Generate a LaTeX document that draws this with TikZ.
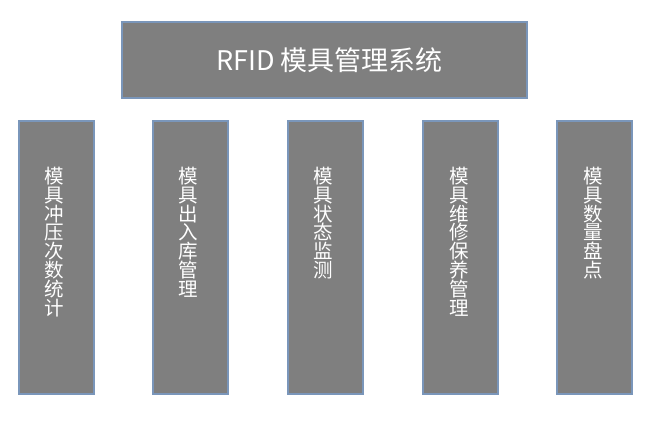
\documentclass[tikz,border=0pt]{standalone}
\usepackage{fontspec}
\newfontfamily\cjk{Noto Sans CJK SC}
\definecolor{boxfill}{RGB}{127,127,127}
\definecolor{boxline}{RGB}{122,150,186}
\begin{document}
\begin{tikzpicture}[x=1pt,y=-1pt,
  box/.style={draw=boxline,line width=2pt,fill=boxfill},
  vtext/.style={text=white,font=\cjk\fontsize{19.5}{18.8}\selectfont,align=center,inner sep=0pt,anchor=north}]
\useasboundingbox[fill=white] (0,0) rectangle (661,421);
\draw[box] (122,22) rectangle (527,98);
\node[text=white,font=\cjk\fontsize{27}{30}\selectfont] (title) at (329.5,60) {RFID 模具管理系统};
\draw[box] (19,121) rectangle (94,394);
\draw[box] (153,121) rectangle (228,394);
\draw[box] (288,121) rectangle (363,394);
\draw[box] (423,121) rectangle (498,394);
\draw[box] (557,121) rectangle (632,394);
\node[vtext] (c1) at (54,167) {模\\具\\冲\\压\\次\\数\\统\\计};
\node[vtext] (c2) at (188,167) {模\\具\\出\\入\\库\\管\\理};
\node[vtext] (c3) at (323,167) {模\\具\\状\\态\\监\\测};
\node[vtext] (c4) at (459,167) {模\\具\\维\\修\\保\\养\\管\\理};
\node[vtext] (c5) at (593,167) {模\\具\\数\\量\\盘\\点};
\end{tikzpicture}
\end{document}
